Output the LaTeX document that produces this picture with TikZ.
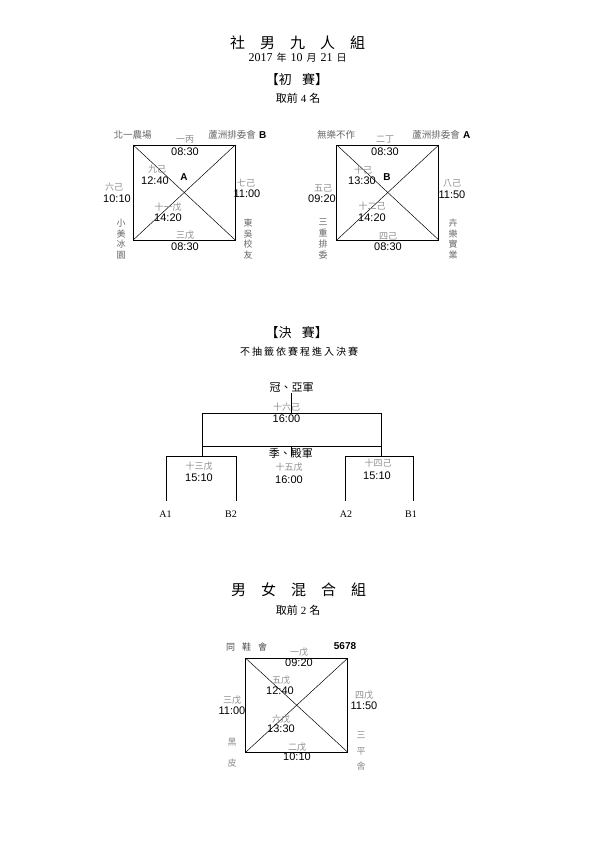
\documentclass[tikz,border=0pt]{standalone}
\usepackage{fontspec}
\setmainfont{Liberation Serif}
\newfontfamily\cjk{Noto Sans CJK TC}
\newfontfamily\cjkwide[LetterSpace=20]{Noto Sans CJK TC}
\newfontfamily\num{Liberation Sans}
\usetikzlibrary{positioning}

\begin{document}
\begin{tikzpicture}[x=1pt,y=-1pt,
	court/.style={draw, line width=0.9pt, minimum width=102pt,%
		minimum height=95pt, inner sep=0pt, outer sep=0pt},
	cross/.style={line width=0.5pt},
	bracket/.style={line width=0.8pt},
	slot/.style={font=\cjk\fontsize{9}{10}\selectfont, text=black!45, inner sep=0pt},
	clock/.style={font=\num\fontsize{11}{12}\selectfont, inner sep=0pt},
	team/.style={font=\cjk\fontsize{9.5}{10.7}\selectfont, text=black!60,%
		inner sep=0pt, align=center},
	pool/.style={font=\num\bfseries\fontsize{10}{12}\selectfont, inner sep=0pt},
	heading/.style={font=\cjk\fontsize{15}{18}\selectfont, inner sep=0pt},
	stage/.style={font=\cjk\fontsize{13}{15}\selectfont, inner sep=0pt},
	note/.style={font=\cjk\fontsize{11}{13}\selectfont, inner sep=0pt},
	seed/.style={font=\fontsize{10}{12}\selectfont, inner sep=0pt}]
	\useasboundingbox (0,0) rectangle (595,842);

	% titles
	\node[heading] (title1) at (297.5,43) {社\hspace{1em}男\hspace{1em}九\hspace{1em}人\hspace{1em}組};
	\node[font=\fontsize{12}{14}\selectfont, inner sep=0pt] (date) at (297.5,58)
		{2017\hspace{4pt}{\cjk\fontsize{10}{12}\selectfont 年}\hspace{4pt}10\hspace{4pt}%
		{\cjk\fontsize{10}{12}\selectfont 月}\hspace{4pt}21\hspace{4pt}{\cjk\fontsize{10}{12}\selectfont 日}};
	\node[stage] (prelim) at (297,80) {【初\hspace{0.8em}賽】};
	\node[note] (top4) at (298,98) {取前\hspace{3pt}{\rmfamily 4}\hspace{3pt}名};

	% courts
	\node[court] (box1) at (184.2,192.5) {};
	\node[court] (box2) at (387.8,192.5) {};
	\node[court, minimum height=94pt] (box3) at (296.7,705.2) {};
	\foreach \b in {box1,box2,box3}{
		\draw[cross] (\b.north west)--(\b.south east);
		\draw[cross] (\b.north east)--(\b.south west);
	}

	% teams
	\node[team] (t1) at (132.5,135) {北一農場};
	\node[team] (t2) at (232,135) {蘆洲排委會};
	\node[pool, right=3pt of t2] (poolB) {B};
	\node[team, font=\cjk\fontsize{9}{10.7}\selectfont] (t3) at (121,239) {小\\美\\冰\\園};
	\node[team, font=\cjk\fontsize{9}{10.7}\selectfont] (t4) at (248,239) {東\\吳\\校\\友};
	\node[pool] (poolA1) at (184,177) {A};
	\node[team] (u1) at (336,135) {無樂不作};
	\node[team] (u2) at (436,135) {蘆洲排委會};
	\node[pool, right=3pt of u2] (poolA) {A};
	\node[team, font=\cjk\fontsize{9}{10.7}\selectfont] (u3) at (323,239) {三\\重\\排\\委};
	\node[team, font=\cjk\fontsize{9}{10.7}\selectfont] (u4) at (453,239) {卉\\樂\\實\\業};
	\node[pool] (poolB2) at (387,177) {B};

	% matches
	\foreach \n/\sx/\sy/\s/\tx/\ty/\t in {
		g1/185/139/一丙/185/152/08:30, g9/157/169/九己/155/181/12:40,
		g6/114/187/六己/117/199/10:10, g7/246/183/七己/247/194/11:00,
		g11/168/207/十一戊/168/218/14:20, g3/185/235/三戊/185/247/08:30,
		h2/385/139/二丁/385/152/08:30, h10/363/170/十己/362/181/13:30,
		h5/323/188/五己/322/199/09:20, h8/452/183/八己/452/195/11:50,
		h12/372/206/十二己/372/218/14:20, h4/388/236/四己/388/247/08:30,
		f16/286.5/407/十六己/286.5/419/16:00, f13/199/466/十三戊/199/478/15:10,
		f15/289/467/十五戊/289/480/16:00, f14/378/463/十四己/377/476/15:10,
		m1/299/652/一戊/299/663/09:20, m5/281/680/五戊/280/691/12:40,
		m3/232/700/三戊/232/711/11:00, m4/364/695/四戊/364/706/11:50,
		m6/281/719/六戊/281/729/13:30, m2/297/747/二戊/297/757/10:10}{
		\node[slot] (\n) at (\sx,\sy) {\s};
		\node[clock] (\n-t) at (\tx,\ty) {\t};
	}

	% finals
	\node[stage] (final-title) at (296.7,333) {【決\hspace{0.8em}賽】};
	\node[font=\cjkwide\fontsize{10}{12}\selectfont, inner sep=0pt] (rule) at (299,352) {不抽籤依賽程進入決賽};
	\node[note] (champ) at (291.7,388) {冠、亞軍};
	\node[draw, bracket, minimum width=179pt, minimum height=33pt,%
		inner sep=0pt, outer sep=0pt] (final) at (291.7,429.7) {};
	\node[note] (third) at (290.8,453) {季、殿軍};
	\draw[bracket] (champ.south)--(final.north);
	\coordinate (third-tick) at (291.7,456);
	\draw[bracket] (final.south)--(third-tick);
	\coordinate (semiL) at (202.2,456.7);
	\coordinate (semiR) at (381.2,456.7);
	\coordinate (footA1) at (166,501);
	\coordinate (footB2) at (236,501);
	\coordinate (footA2) at (345,501);
	\coordinate (footB1) at (413.3,501);
	\draw[bracket] (final.south west)--(semiL);
	\draw[bracket] (final.south east)--(semiR);
	\draw[bracket] (footA1) |- (semiL) -| (footB2);
	\draw[bracket] (footA2) |- (semiR) -| (footB1);
	\node[seed] (a1) at (165.5,514) {A1};
	\node[seed] (b2) at (231,514) {B2};
	\node[seed] (a2) at (346,514) {A2};
	\node[seed] (b1) at (411,514) {B1};

	% mixed
	\node[heading] (title2) at (298.5,590) {男\hspace{1em}女\hspace{1em}混\hspace{1em}合\hspace{1em}組};
	\node[note] (top2) at (298,610) {取前\hspace{3pt}{\rmfamily 2}\hspace{3pt}名};
	\node[team, text=black!70, font=\cjk\fontsize{9}{10.7}\selectfont] (v1) at (246.7,647) {同\hspace{7pt}鞋\hspace{7pt}會};
	\node[clock, font=\num\bfseries\fontsize{10}{12}\selectfont] (v2) at (345,646) {5678};
	\node[team, text=black!45, font=\cjk\fontsize{9}{21}\selectfont] (v3) at (232,752.5) {黑\\皮};
	\node[team, text=black!45, font=\cjk\fontsize{9}{15.5}\selectfont] (v4) at (361,751.5) {三\\平\\舍};
\end{tikzpicture}
\end{document}
